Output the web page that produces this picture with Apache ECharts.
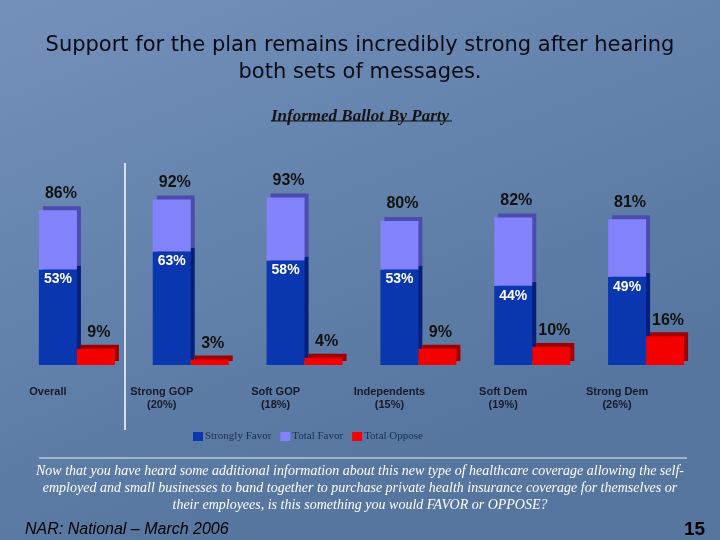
<!DOCTYPE html>
<html>
<head>
<meta charset="utf-8">
<script src="https://cdn.jsdelivr.net/npm/echarts@6/dist/echarts.min.js"></script>
<style>html,body{margin:0;padding:0;}#c{width:720px;height:540px;}</style>
</head>
<body>
<div id="c"></div>
<script>
const categories = ['Overall', 'Strong GOP\n(20%)', 'Soft GOP\n(18%)', 'Independents\n(15%)', 'Soft Dem\n(19%)', 'Strong Dem\n(26%)'];
const stronglyFavor = [53, 63, 58, 53, 44, 49];
const totalFavor = [86, 92, 93, 80, 82, 81];
const totalOppose = [9, 3, 4, 9, 10, 16];
const legendNames = ['Strongly Favor', 'Total Favor', 'Total Oppose'];

const favorRest = totalFavor.map((t, i) => t - stronglyFavor[i]);

const chart = echarts.init(document.getElementById('c'), null, {renderer: 'canvas'});
const option = {
  animation: false,
  backgroundColor: {
    type: 'linear', x: 0, y: 0, x2: 0.3, y2: 1,
    colorStops: [{offset: 0, color: '#7391ba'}, {offset: 1, color: '#56769f'}]
  },
  title: [
    {
      text: 'Support for the plan remains incredibly strong after hearing\nboth sets of messages.',
      left: 'center', top: 27,
      textStyle: {fontFamily: 'DejaVu Sans, Tahoma', fontSize: 21, fontWeight: 'normal', color: '#0a0a14', lineHeight: 27}
    },
    {
      text: 'Informed Ballot By Party',
      left: 'center', top: 103,
      textStyle: {fontFamily: 'Liberation Serif, Times New Roman', fontSize: 17, fontWeight: 'bold', fontStyle: 'italic', color: '#141414'}
    },
    {
      text: 'NAR: National \u2013 March 2006',
      left: 20, top: 517,
      textStyle: {fontFamily: 'Liberation Sans, Arial', fontSize: 16, fontWeight: 'normal', fontStyle: 'italic', color: '#000'}
    },
    {
      text: '15',
      left: 679, top: 515,
      textStyle: {fontFamily: 'Liberation Sans, Arial', fontSize: 19, fontWeight: 'bold', color: '#000'}
    }
  ],
  legend: {
    data: legendNames,
    left: 188, top: 426,
    itemWidth: 10, itemHeight: 9, itemGap: 9,
    icon: 'rect',
    textStyle: {fontFamily: 'Liberation Serif, Times New Roman', fontSize: 11, color: '#1e2c52', padding: [0, 0, 0, -3]}
  },
  grid: {left: 20, right: 17, top: 185, bottom: 175, containLabel: false},
  xAxis: {
    type: 'category',
    data: categories,
    axisLine: {show: false},
    axisTick: {show: false},
    axisLabel: {
      interval: 0, margin: 20,
      fontFamily: 'Liberation Sans, Arial', fontSize: 11, fontWeight: 'bold', color: '#161a2a',
      lineHeight: 13, align: 'center', padding: [0, 58, 0, 0]
    }
  },
  yAxis: {type: 'value', min: 0, max: 100, show: false, splitLine: {show: false}},
  series: [
    {
      name: legendNames[0], type: 'bar', stack: 'favor',
      data: stronglyFavor,
      barWidth: 38, barGap: '0%',
      itemStyle: {color: '#0a36b0', shadowColor: '#04207a', shadowOffsetX: 4, shadowOffsetY: -4, shadowBlur: 0},
      label: {show: true, position: 'insideTop', distance: 3, formatter: '{c}%',
        fontFamily: 'Liberation Sans, Arial', fontSize: 14, fontWeight: 'bold', color: '#fff'}
    },
    {
      name: legendNames[1], type: 'bar', stack: 'favor',
      data: favorRest,
      barWidth: 38, barGap: '0%',
      itemStyle: {color: '#8282fa', shadowColor: '#4c4cae', shadowOffsetX: 4, shadowOffsetY: -4, shadowBlur: 0},
      label: {show: true, position: 'top', distance: 9, offset: [3, 0], formatter: p => totalFavor[p.dataIndex] + '%',
        fontFamily: 'Liberation Sans, Arial', fontSize: 16, fontWeight: 'bold', color: '#111'}
    },
    {
      name: legendNames[2], type: 'bar',
      data: totalOppose,
      barWidth: 38, barGap: '0%',
      itemStyle: {color: '#f40000', shadowColor: '#a00000', shadowOffsetX: 4, shadowOffsetY: -4, shadowBlur: 0},
      label: {show: true, position: 'top', distance: 8, offset: [3, 0], formatter: '{c}%',
        fontFamily: 'Liberation Sans, Arial', fontSize: 16, fontWeight: 'bold', color: '#111'}
    }
  ],
  graphic: [
    {type: 'line', shape: {x1: 125, y1: 163, x2: 125, y2: 430}, style: {stroke: '#ffffff', lineWidth: 1.5}, silent: true},
    {type: 'line', shape: {x1: 271, y1: 121, x2: 452, y2: 121}, style: {stroke: '#141414', lineWidth: 1}, silent: true},
    {type: 'line', shape: {x1: 39, y1: 458, x2: 687, y2: 458}, style: {stroke: '#e8eef8', lineWidth: 1}, silent: true},
    {
      type: 'text', x: 360, y: 463, silent: true,
      style: {
        text: 'Now that you have heard some additional information about this new type of healthcare coverage allowing the self-\nemployed and small businesses to band together to purchase private health insurance coverage for themselves or\ntheir employees, is this something you would FAVOR or OPPOSE?',
        align: 'center', verticalAlign: 'top',
        font: 'italic 14px "Liberation Serif", "Times New Roman"', lineHeight: 16.8, fill: '#fff'
      }
    }
  ]
};
chart.setOption(option);
</script>
</body>
</html>
